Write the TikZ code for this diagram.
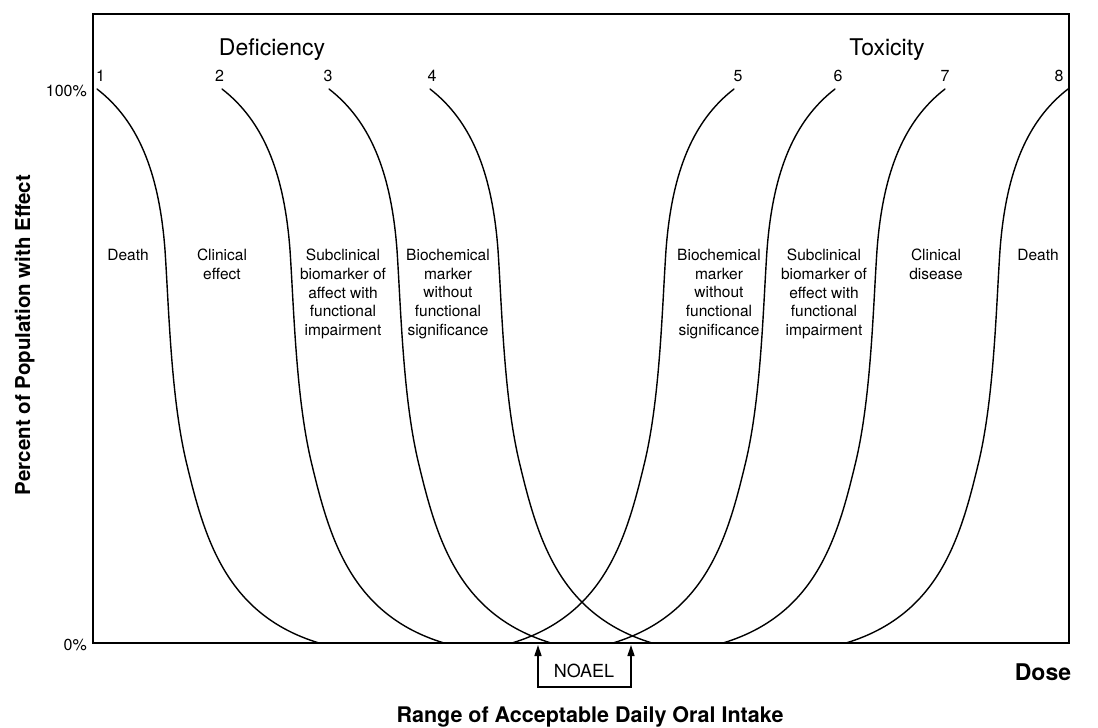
\documentclass[tikz,border=0pt]{standalone}
\usepackage{fontspec}
\setmainfont{TeX Gyre Heros}
\usetikzlibrary{arrows.meta}

\tikzset{
  frame/.style={line width=2pt},
  curveline/.style={line width=1.4pt, line join=round, line cap=round},
  lbl/.style={align=center, font=\fontsize{15.5}{18.7}\selectfont, inner sep=0pt, anchor=north},
  num/.style={font=\fontsize{16}{18}\selectfont, inner sep=0pt, anchor=base},
  pct/.style={font=\fontsize{16}{18}\selectfont, inner sep=0pt, anchor=base east},
  head/.style={font=\fontsize{23}{26}\selectfont, inner sep=0pt, anchor=base},
  axtitle/.style={font=\fontsize{21.5}{24}\selectfont\bfseries, inner sep=0pt, anchor=base},
  bracket/.style={line width=1.4pt, {Triangle[length=11pt,width=7pt]}-{Triangle[length=11pt,width=7pt]}}
}

\begin{document}
\begin{tikzpicture}[x=1pt,y=-1pt]
\useasboundingbox (0,0) rectangle (1098,728);

% plot frame
\draw[frame] (93,14) rectangle (1069,643);

% dose-response curves: deficiency curves fall (+1), toxicity curves rise (-1)
\foreach \s/\m in {97/1,222/1,329/1,430/1,734/-1,835/-1,945/-1,1068/-1}{
  \begin{scope}[shift={(\s,0)}, xscale=\m]
    \draw[curveline] (0,89) .. controls (40,120) and (62,170) .. (68,250)
      .. controls (72,310) and (74,400) .. (90,465)
      .. controls (108,540) and (130,615) .. (222,643);
  \end{scope}
}

% headings
\node[head] (defic) at (272,55) {Deficiency};
\node[head] (toxic) at (887,55) {Toxicity};

% curve numbers
\node[num] (n1) at (100.5,81) {1};
\node[num] (n2) at (219.5,81) {2};
\node[num] (n3) at (328,81) {3};
\node[num] (n4) at (432,81) {4};
\node[num] (n5) at (738,81) {5};
\node[num] (n6) at (838,81) {6};
\node[num] (n7) at (945,81) {7};
\node[num] (n8) at (1059,81) {8};

% y-axis ticks
\node[pct] (p100) at (87,96) {100\%};
\node[pct] (p0) at (87,650) {0\%};

% region labels
\node[lbl] (l1) at (128,249) {Death};
\node[lbl] (l2) at (222,249) {Clinical\\effect};
\node[lbl] (l3) at (343,249) {Subclinical\\biomarker of\\affect with\\functional\\impairment};
\node[lbl] (l4) at (448,249) {Biochemical\\marker\\without\\functional\\significance};
\node[lbl] (l5) at (719,249) {Biochemical\\marker\\without\\functional\\significance};
\node[lbl] (l6) at (824,249) {Subclinical\\biomarker of\\effect with\\functional\\impairment};
\node[lbl] (l7) at (936,249) {Clinical\\disease};
\node[lbl] (l8) at (1038,249) {Death};

% axis titles
\node[axtitle, font=\fontsize{20.5}{23}\selectfont\bfseries, rotate=90] (ytitle) at (30,335) {Percent of Population with Effect};
\node[axtitle, font=\fontsize{23}{25}\selectfont\bfseries] (dose) at (1043,680) {Dose};
\node[axtitle] (range) at (590,722) {Range of Acceptable Daily Oral Intake};

% NOAEL bracket
\node[font=\fontsize{18}{20}\selectfont, inner sep=0pt, anchor=base] (noael) at (584,677) {NOAEL};
\coordinate (nl) at (538,645);
\coordinate (nr) at (631,645);
\coordinate (bl) at (538,687);
\coordinate (br) at (631,687);
\draw[bracket] (nl) -- (bl) -- (br) -- (nr);
\end{tikzpicture}
\end{document}
